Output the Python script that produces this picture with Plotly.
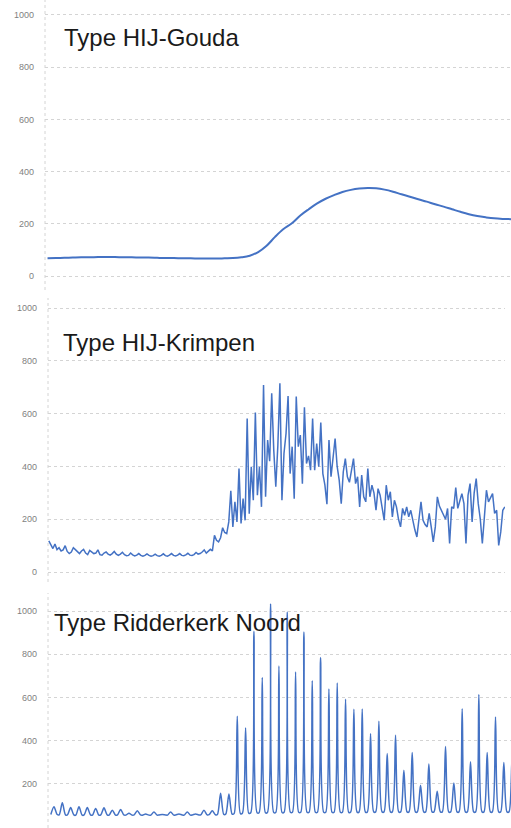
import plotly.graph_objects as go

W, H = 511, 828
BLUE = "#4472C4"

# ---------------- data ----------------
y_ticks = [0, 200, 400, 600, 800, 1000]
titles = ["Type HIJ-Gouda", "Type HIJ-Krimpen", "Type Ridderkerk Noord"]

# Panel 1: one value per day
gouda_values = [68, 69, 70, 71, 72, 72, 73, 73, 73, 72, 72, 71, 71, 70, 69, 69, 68, 68, 67, 67,
                67, 68, 69, 72, 78, 92, 116, 150, 180, 202, 232, 256, 278, 296, 310, 322, 330, 335,
                337, 336, 331, 323, 313, 304, 294, 285, 275, 266, 256, 246, 237, 230, 225, 221,
                219, 218]

# Panel 2: four values per day
krimpen_values = [
    118, 100, 89, 106, 85, 92, 80, 84, 100, 78,
    70, 76, 92, 85, 78, 70, 80, 86, 72, 66,
    82, 76, 70, 72, 84, 66, 64, 72, 76, 68,
    64, 70, 78, 68, 63, 68, 75, 66, 62, 63,
    72, 65, 61, 64, 70, 63, 60, 63, 69, 63,
    60, 62, 68, 62, 60, 63, 69, 62, 60, 64,
    70, 63, 61, 64, 70, 63, 62, 65, 71, 64,
    63, 66, 74, 68, 70, 76, 84, 72, 78, 86,
    80,
    139, 120, 114, 130, 168, 150, 146, 190, 308, 171,
    266, 190, 392, 184, 278, 196, 582, 221, 399, 272,
    604, 291, 399, 247, 709, 285, 500, 420, 677, 462,
    323, 480, 715, 272, 449, 525, 667, 373, 475, 278,
    665, 475, 519, 335, 624, 411, 440, 386, 582, 386,
    487, 399, 566, 373, 330, 257, 500, 361, 443, 506,
    400, 348, 259, 380, 430, 361, 340, 380, 430, 335,
    361, 247, 367, 285, 266, 392, 285, 329, 300, 234,
    316, 291, 250, 196, 329, 272, 304, 209, 272, 247,
    200, 171, 241, 215, 247, 209, 234, 190, 160, 133,
    190, 266, 196, 180, 171, 222, 171, 114, 171, 285,
    250, 234, 222, 200, 241, 108, 247, 241, 320, 241,
    270, 297, 259, 108, 291, 335, 190, 300, 354, 259,
    200, 108, 209, 310, 266, 280, 297, 222, 234, 101,
    152, 234, 247,
]

# Panel 3: daily peak and daily base level
ridderkerk_peaks = [94, 112, 90, 94, 90, 86, 89, 78, 81, 64,
                    75, 60, 70, 58, 70, 60, 70, 60, 78, 75,
                    156, 153, 513, 458, 906, 692, 1033, 745, 995, 718,
                    903, 677, 785, 639, 667, 591, 545, 546, 432, 490,
                    340, 425, 263, 345, 193, 292, 165, 373, 204, 548,
                    302, 614, 345, 509, 299, 330]
ridderkerk_base = [58, 56, 56, 55, 56, 55, 56, 55, 56, 55,
                   56, 55, 55, 56, 55, 56, 55, 56, 56, 57,
                   58, 60, 62, 64, 66, 66, 67, 67, 68, 68,
                   68, 68, 68, 68, 68, 68, 69, 69, 70, 70,
                   70, 70, 70, 70, 70, 70, 70, 70, 70, 70,
                   70, 70, 70, 70, 70, 70]

# ---------------- build series ----------------
gouda_x = list(range(len(gouda_values)))
krimpen_x = [k / 4 for k in range(len(krimpen_values))]
rid_x, rid_y = [], []
for d, (p, b) in enumerate(zip(ridderkerk_peaks, ridderkerk_base)):
    rid_x += [d - 0.38, d, d + 0.38]
    rid_y += [b, p, b]


def py(px):
    return 1 - px / H


def pxx(px):
    return px / W


fig = go.Figure()
fig.add_trace(go.Scatter(x=gouda_x, y=gouda_values, mode="lines",
                         line=dict(color=BLUE, width=2, shape="spline"), xaxis="x", yaxis="y",
                         showlegend=False, hoverinfo="skip"))
fig.add_trace(go.Scatter(x=krimpen_x, y=krimpen_values, mode="lines",
                         line=dict(color=BLUE, width=1.5), xaxis="x2", yaxis="y2",
                         showlegend=False, hoverinfo="skip"))
fig.add_trace(go.Scatter(x=rid_x, y=rid_y, mode="lines",
                         line=dict(color=BLUE, width=1.5, shape="spline", smoothing=0.8),
                         xaxis="x3", yaxis="y3",
                         showlegend=False, hoverinfo="skip"))

yax_common = dict(
    tickvals=y_ticks, ticktext=[str(v) for v in y_ticks],
    showgrid=True, gridcolor="#d4d4d4", griddash="dot", gridwidth=1,
    zeroline=False, showline=False, ticks="",
    tickfont=dict(family="Liberation Sans", size=9, color="#7f7f7f"),
    ticklabelstandoff=10, fixedrange=True,
)
xax_common = dict(showgrid=False, zeroline=False, showline=False,
                  showticklabels=False, ticks="", fixedrange=True)

fig.update_layout(
    width=W, height=H,
    margin=dict(l=0, r=0, t=0, b=0),
    paper_bgcolor="white", plot_bgcolor="white",
    showlegend=False,
    xaxis=dict(domain=[pxx(45), 1], range=[-0.3, 55], anchor="y", **xax_common),
    yaxis=dict(domain=[py(280), py(0)], range=[-15, 1057], anchor="x", **yax_common),
    xaxis2=dict(domain=[pxx(48), pxx(505)], range=[-0.1, 55.77], anchor="y2", **xax_common),
    yaxis2=dict(domain=[py(576), py(292)], range=[-15, 1061], anchor="x2", **yax_common),
    xaxis3=dict(domain=[pxx(48), 1], range=[-0.72, 54.86], anchor="y3", **xax_common),
    yaxis3=dict(domain=[0, py(592)], range=[-4.6, 1088], anchor="x3", **yax_common),
)

# dotted vertical axis lines
for x_px, top, bot in [(45, 0, 290), (48, 298, 582), (48, 593, 828)]:
    fig.add_shape(type="line", xref="paper", yref="paper",
                  x0=pxx(x_px), x1=pxx(x_px), y0=py(bot), y1=py(top),
                  line=dict(color="#d4d4d4", width=1, dash="dot"))

# panel titles
for text, x_px, y_px in zip(titles, [62, 61, 52], [38, 342, 622]):
    fig.add_annotation(text=text, xref="paper", yref="paper",
                       x=pxx(x_px), y=py(y_px), xanchor="left", yanchor="middle",
                       showarrow=False,
                       font=dict(family="Liberation Sans", size=24, color="#1a1a1a"))

fig.write_html("out.html")
